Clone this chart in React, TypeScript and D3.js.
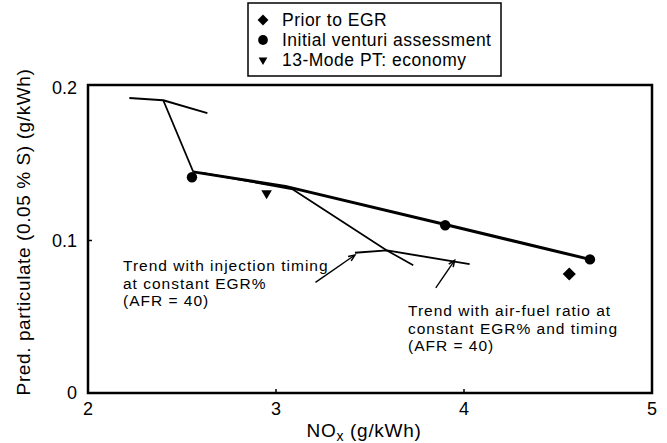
import React, { useEffect, useRef } from "react";
import * as d3 from "d3";

// measured points
const priorToEgr = [[4.56, 0.078]];
const venturi = [
  [2.553, 0.1415],
  [3.9, 0.11],
  [4.67, 0.0876],
];
const modePt = [[2.95, 0.131]];

// trend lines
const venturiLine = [
  [2.56, 0.145],
  [3.05, 0.1355],
  [3.9, 0.1105],
  [4.67, 0.0876],
];
const egrDrop = [
  [2.4, 0.192],
  [2.56, 0.145],
];
const topAfrLine = [
  [2.22, 0.1935],
  [2.4, 0.192],
  [2.635, 0.1835],
];
const timingLine = [
  [2.6, 0.1445],
  [3.09, 0.1335],
  [3.59, 0.0935],
  [3.73, 0.0837],
];
const lowAfrLine = [
  [3.42, 0.092],
  [3.59, 0.0935],
  [4.03, 0.0845],
];
const arrows = [
  [
    [3.21, 0.0725],
    [3.42, 0.0905],
  ],
  [
    [3.85, 0.069],
    [3.95, 0.087],
  ],
];

const xTicks = [2, 3, 4, 5];
const yTicks = [0, 0.1, 0.2];
const yTickLabels = ["0", "0.1", "0.2"];
const legendLabels = ["Prior to EGR", "Initial venturi assessment", "13-Mode PT: economy"];
const note1 = ["Trend with injection timing", "at constant EGR%", "(AFR = 40)"];
const note2 = ["Trend with air-fuel ratio at", "constant EGR% and timing", "(AFR = 40)"];

const App = () => {
  const svgRef = useRef(null);

  useEffect(() => {
    const svg = d3.select(svgRef.current);
    svg.selectAll("*").remove();

    const width = 667;
    const height = 443;
    const margin = { top: 85, right: 15, bottom: 50, left: 88 };
    const font = "'Liberation Sans', Arial, Helvetica, sans-serif";

    const x = d3
      .scaleLinear()
      .domain([2, 5])
      .range([margin.left, width - margin.right]);
    const y = d3
      .scaleLinear()
      .domain([0, 0.2])
      .range([height - margin.bottom, 88]);

    const line = d3
      .line()
      .x((d) => x(d[0]))
      .y((d) => y(d[1]));

    // Marco del gráfico
    svg
      .append("rect")
      .attr("x", x(2))
      .attr("y", margin.top)
      .attr("width", x(5) - x(2))
      .attr("height", y(0) - margin.top)
      .attr("fill", "none")
      .attr("stroke", "#000")
      .attr("stroke-width", 2.5);

    // Ticks hacia dentro
    svg
      .selectAll("line.xtick")
      .data(xTicks.slice(1, -1))
      .enter()
      .append("line")
      .attr("x1", (d) => x(d))
      .attr("x2", (d) => x(d))
      .attr("y1", y(0))
      .attr("y2", y(0) - 4)
      .attr("stroke", "#000")
      .attr("stroke-width", 1.5);
    svg
      .selectAll("line.ytick")
      .data(yTicks.slice(1, -1))
      .enter()
      .append("line")
      .attr("x1", x(2))
      .attr("x2", x(2) + 4)
      .attr("y1", (d) => y(d))
      .attr("y2", (d) => y(d))
      .attr("stroke", "#000")
      .attr("stroke-width", 1.5);

    // Etiquetas de ejes
    svg
      .selectAll("text.xl")
      .data(xTicks)
      .enter()
      .append("text")
      .attr("x", (d) => x(d))
      .attr("y", y(0) + 22)
      .attr("text-anchor", "middle")
      .attr("font-family", font)
      .attr("font-size", 18)
      .text((d) => d);
    svg
      .selectAll("text.yl")
      .data(yTicks)
      .enter()
      .append("text")
      .attr("x", 77)
      .attr("y", (d) => y(d) + 6)
      .attr("text-anchor", "end")
      .attr("font-family", font)
      .attr("font-size", 18)
      .text((d, i) => yTickLabels[i]);

    svg
      .append("text")
      .attr("transform", "translate(30,232) rotate(-90)")
      .attr("text-anchor", "middle")
      .attr("font-family", font)
      .attr("font-size", 19)
      .attr("letter-spacing", 0.6)
      .text("Pred. particulate (0.05 % S) (g/kWh)");

    const xt = svg
      .append("text")
      .attr("x", 364)
      .attr("y", 437)
      .attr("text-anchor", "middle")
      .attr("font-family", font)
      .attr("font-size", 19)
      .attr("letter-spacing", 0.7);
    xt.append("tspan").text("NO");
    xt.append("tspan").attr("font-size", 14).attr("dy", 4).text("x");
    xt.append("tspan").attr("dy", -4).text(" (g/kWh)");

    // Líneas de tendencia
    const lines = [
      [venturiLine, 3],
      [egrDrop, 1.7],
      [topAfrLine, 2],
      [timingLine, 1.7],
      [lowAfrLine, 1.9],
    ];
    lines.forEach(([pts, w]) => {
      svg
        .append("path")
        .attr("d", line(pts))
        .attr("fill", "none")
        .attr("stroke", "#000")
        .attr("stroke-width", w)
        .attr("stroke-linejoin", "round");
    });

    // Flechas
    arrows.forEach((pts) => {
      const [a, b] = pts;
      const x1 = x(a[0]);
      const y1 = y(a[1]);
      const x2 = x(b[0]);
      const y2 = y(b[1]);
      const ang = Math.atan2(y2 - y1, x2 - x1);
      svg
        .append("line")
        .attr("x1", x1)
        .attr("y1", y1)
        .attr("x2", x2)
        .attr("y2", y2)
        .attr("stroke", "#000")
        .attr("stroke-width", 1.4);
      const hl = 7;
      const p = [
        [x2 - hl * Math.cos(ang - 0.4), y2 - hl * Math.sin(ang - 0.4)],
        [x2, y2],
        [x2 - hl * Math.cos(ang + 0.4), y2 - hl * Math.sin(ang + 0.4)],
      ];
      svg
        .append("path")
        .attr("d", d3.line()(p))
        .attr("fill", "none")
        .attr("stroke", "#000")
        .attr("stroke-width", 1.5);
    });

    // Marcadores
    const diamond = d3.symbol().type(d3.symbolDiamond2).size(110);
    const circle = d3.symbol().type(d3.symbolCircle).size(85);
    const tri = d3.symbol().type(d3.symbolTriangle2).size(80);

    svg
      .selectAll("path.dia")
      .data(priorToEgr)
      .enter()
      .append("path")
      .attr("d", diamond)
      .attr("transform", (d) => `translate(${x(d[0])},${y(d[1])})`)
      .attr("fill", "#000");
    svg
      .selectAll("path.cir")
      .data(venturi)
      .enter()
      .append("path")
      .attr("d", circle)
      .attr("transform", (d) => `translate(${x(d[0])},${y(d[1])})`)
      .attr("fill", "#000");
    svg
      .selectAll("path.tri")
      .data(modePt)
      .enter()
      .append("path")
      .attr("d", tri)
      .attr("transform", (d) => `translate(${x(d[0])},${y(d[1])}) rotate(180)`)
      .attr("fill", "#000");

    // Anotaciones
    const notes = [
      [note1, 123, 271],
      [note2, 408, 316],
    ];
    notes.forEach(([rows, tx, ty]) => {
      rows.forEach((r, i) => {
        svg
          .append("text")
          .attr("x", tx)
          .attr("y", ty + i * 17.5)
          .attr("font-family", font)
          .attr("font-size", 15.5)
          .attr("letter-spacing", 1)
          .text(r);
      });
    });

    // Leyenda
    const legend = svg.append("g").attr("transform", "translate(248,3)");
    legend
      .append("rect")
      .attr("width", 253)
      .attr("height", 73)
      .attr("fill", "#fff")
      .attr("stroke", "#000")
      .attr("stroke-width", 1.5);
    const legendSymbols = [
      [diamond.size(75), 0],
      [circle.size(75), 0],
      [tri.size(55), 180],
    ];
    legendLabels.forEach((lab, i) => {
      const row = legend.append("g").attr("transform", `translate(0,${17 + i * 20})`);
      row
        .append("path")
        .attr("d", legendSymbols[i][0]())
        .attr("transform", `translate(15,0) rotate(${legendSymbols[i][1]})`)
        .attr("fill", "#000");
      row
        .append("text")
        .attr("x", 34)
        .attr("y", 6)
        .attr("font-family", font)
        .attr("font-size", 17.5)
        .attr("letter-spacing", 0.5)
        .text(lab);
    });
  }, []);

  return (
    <svg
      ref={svgRef}
      width={667}
      height={443}
      style={{ position: "absolute", left: 0, top: 0, background: "#fff" }}
    />
  );
};

export default App;
